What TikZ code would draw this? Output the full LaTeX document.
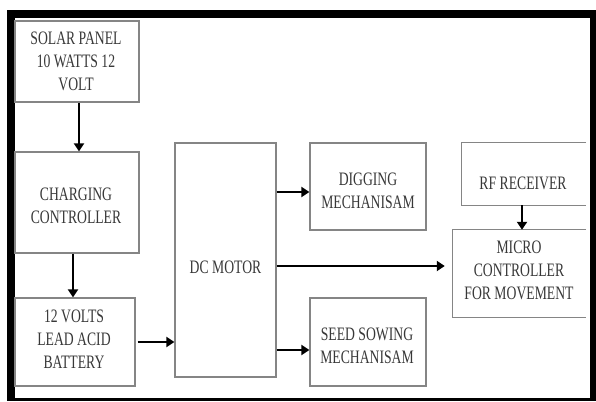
\documentclass[tikz,border=0pt]{standalone}
\usepackage{fontspec}
\setmainfont{Liberation Serif}
\usetikzlibrary{arrows.meta}
\definecolor{boxgray}{HTML}{858585}
\definecolor{txtgray}{HTML}{383838}
\tikzset{
  box/.style={draw=boxgray, line width=1.3pt, inner sep=0pt, fill=white},
  openbox/.style={draw=none, inner sep=0pt},
  boxline/.style={draw=boxgray, line width=1.3pt},
  lab/.style={align=center, inner sep=0pt, text=txtgray, font=\fontsize{19}{23}\selectfont, xscale=0.72, transform shape},
  arr/.style={draw=black, line width=2.7pt, -{Triangle[length=8pt,width=10pt]}}
}
\begin{document}
\begin{tikzpicture}[x=1pt,y=-1pt]
\useasboundingbox (0,0) rectangle (596,401);
% frame
\fill[black] (7,10) rectangle (596,401);
\fill[white] (15,18) rectangle (590,398);
% boxes
\node[box, minimum width=124pt, minimum height=81pt] (solar) at (77,61.5) {};
\node[box, minimum width=124pt, minimum height=101pt] (charging) at (77,202.5) {};
\node[box, minimum width=120pt, minimum height=88pt] (battery) at (75,342) {};
\node[box, minimum width=101pt, minimum height=234pt] (dc) at (225.5,260) {};
\node[box, minimum width=116pt, minimum height=87pt] (dig) at (368,186.5) {};
\node[box, minimum width=116pt, minimum height=88pt] (seed) at (368,342) {};
\node[openbox, minimum width=124pt, minimum height=62pt] (rf) at (524,174) {};
\node[openbox, minimum width=133pt, minimum height=87pt] (micro) at (519.5,273.5) {};
\draw[boxline] (rf.north east) -- (rf.north west) -- (rf.south west) -- (rf.south east);
\draw[boxline] (micro.north east) -- (micro.north west) -- (micro.south west) -- (micro.south east);
% texts
\node[lab] (solart) at (76,61.5) {SOLAR PANEL\\10 WATTS 12\\VOLT};
\node[lab] (chargingt) at (76,205.5) {CHARGING\\CONTROLLER};
\node[lab] (batteryt) at (74,339) {12 VOLTS\\LEAD ACID\\BATTERY};
\node[lab] (dct) at (225.5,267) {DC MOTOR};
\node[lab] (digt) at (368,191) {DIGGING\\MECHANISAM};
\node[lab] (seedt) at (367,345.5) {SEED SOWING\\MECHANISAM};
\node[lab] (rft) at (523,183) {RF RECEIVER};
\node[lab] (microt) at (519,270) {MICRO\\CONTROLLER\\FOR MOVEMENT};
% arrows
\draw[arr] (solar.south -| 79,0) -- (charging.north -| 79,0);
\draw[arr] (charging.south -| 73,0) -- (battery.north -| 73,0);
\draw[arr, shorten <=2pt] (battery.east |- 0,342) -- (dc.west |- 0,342);
\draw[arr] (dc.east |- 0,192) -- (dig.west |- 0,192);
\draw[arr] (dc.east |- 0,350) -- (seed.west |- 0,350);
\draw[arr, shorten >=8pt] (dc.east |- 0,266) -- (micro.west |- 0,266);
\draw[arr] (rf.south -| 522,0) -- (micro.north -| 522,0);
\end{tikzpicture}
\end{document}
